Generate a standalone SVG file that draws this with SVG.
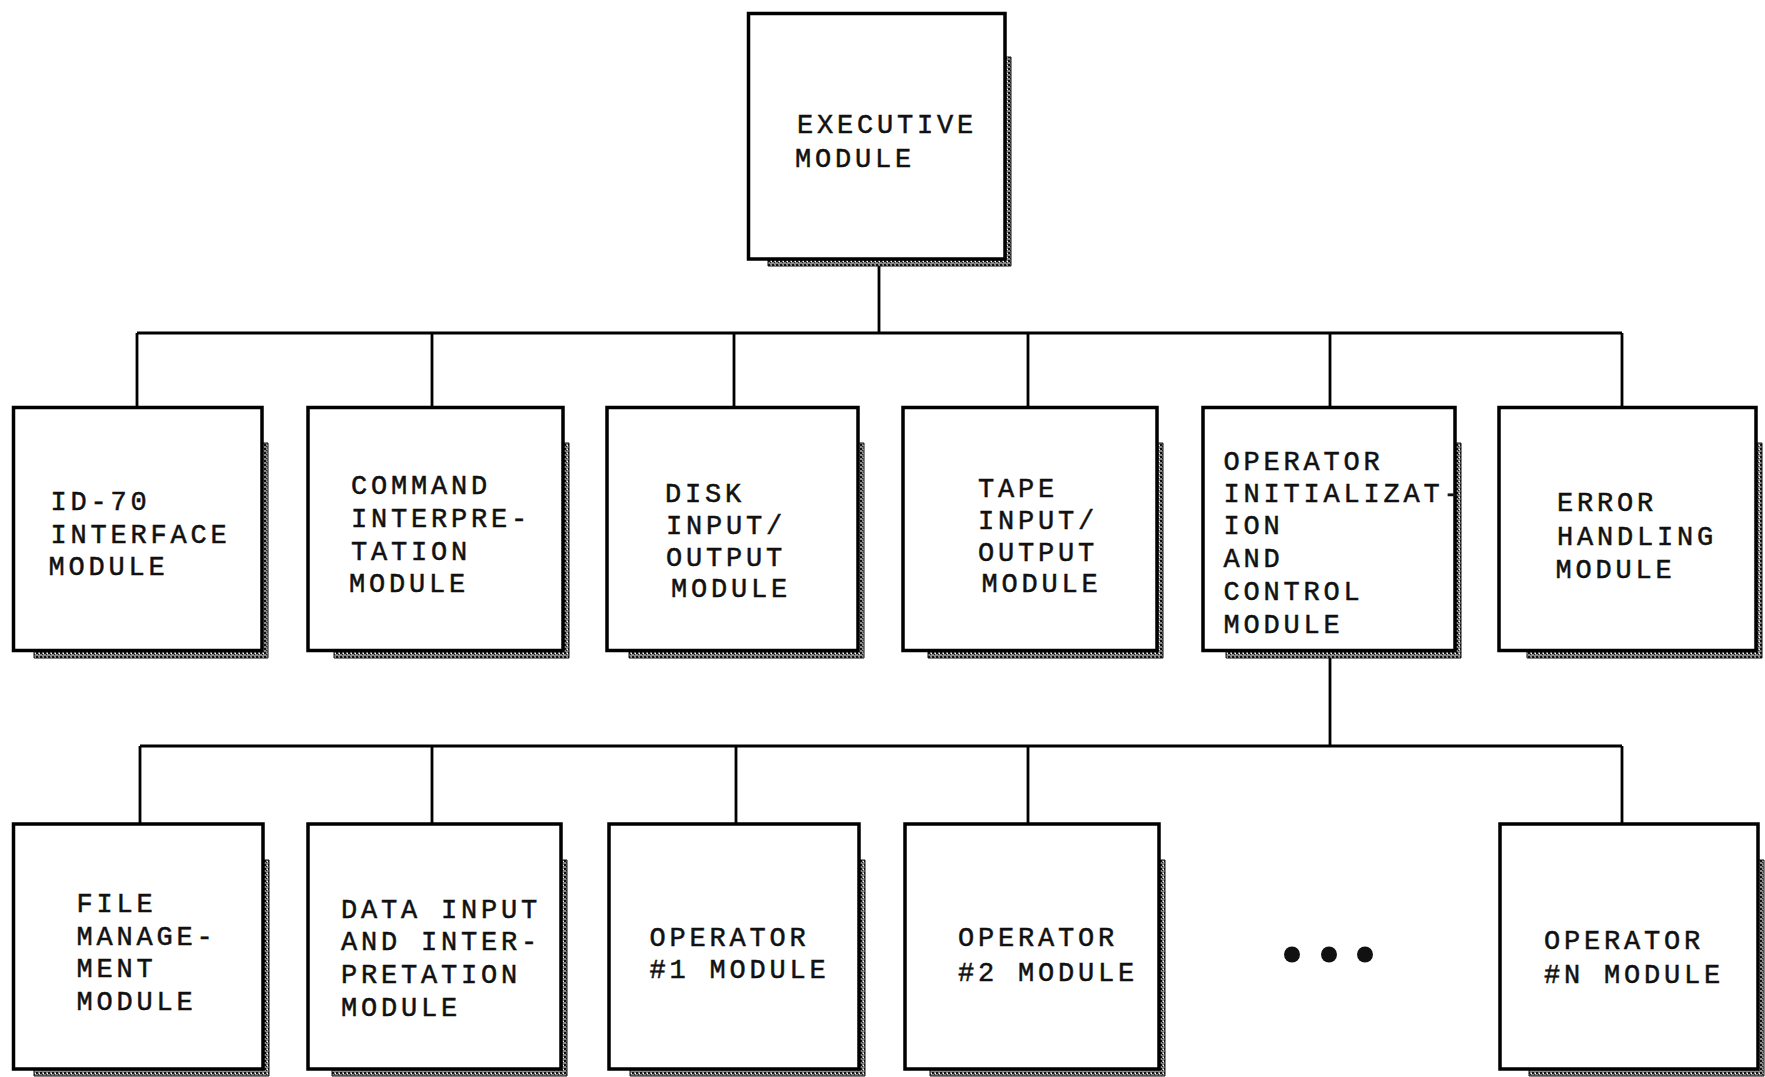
<svg xmlns="http://www.w3.org/2000/svg" width="1765" height="1077" viewBox="0 0 1765 1077">
  <defs>
    <pattern id="stip" width="4" height="4" patternUnits="userSpaceOnUse">
      <rect width="4" height="4" fill="#8a8a8a"/>
      <rect x="0" y="0" width="2" height="2" fill="#111"/>
      <rect x="2" y="2" width="1" height="1" fill="#222"/>
      <rect x="3" y="1" width="1" height="1" fill="#fff"/>
    </pattern>
    <style>
      .box{fill:#fff;stroke:#000;stroke-width:3.5}
      .sh{fill:url(#stip);stroke:#111;stroke-width:1}
      .lbl{font-family:"Liberation Mono","DejaVu Sans Mono",monospace;font-size:27px;letter-spacing:3.8px;fill:#111;stroke:#111;stroke-width:0.5}
      .conn{stroke:#000;stroke-width:2.8;fill:none}
      .dot{fill:#111}
    </style>
  </defs>
  <rect width="1765" height="1077" fill="#fff"/>

  <g id="connectors">
    <path class="conn" d="M879 259 V333 M137 333 H1622 M137 333 V407 M432 333 V407 M734 333 V407 M1028 333 V407 M1330 333 V407 M1622 333 V407"/>
    <path class="conn" d="M1330 651 V746 M140 746 H1622 M140 746 V824 M432 746 V824 M736 746 V824 M1028 746 V824 M1622 746 V824"/>
  </g>

  <g id="executive">
    <path class="sh" d="M1005 57 h6 v209 h-243 v-7 h237 z"/>
    <rect class="box" x="748.5" y="13.5" width="256.5" height="245.5"/>
    <text class="lbl" x="797" y="133">EXECUTIVE</text>
    <text class="lbl" x="795" y="167">MODULE</text>
  </g>

  <g id="id70">
    <path class="sh" d="M262 443 h6 v215 h-234 v-7 h228 z"/>
    <rect class="box" x="13.5" y="407.5" width="248.5" height="243"/>
    <text class="lbl" x="50.6" y="510">ID-70</text>
    <text class="lbl" x="50.6" y="543">INTERFACE</text>
    <text class="lbl" x="48.4" y="575">MODULE</text>
  </g>

  <g id="command">
    <path class="sh" d="M563 443 h6 v215 h-235 v-7 h229 z"/>
    <rect class="box" x="308" y="407.5" width="255" height="243"/>
    <text class="lbl" x="351" y="494">COMMAND</text>
    <text class="lbl" x="351" y="527">INTERPRE-</text>
    <text class="lbl" x="351" y="560">TATION</text>
    <text class="lbl" x="349" y="591.5">MODULE</text>
  </g>

  <g id="disk">
    <path class="sh" d="M858 443 h6 v215 h-235 v-7 h229 z"/>
    <rect class="box" x="607" y="407.5" width="251" height="243"/>
    <text class="lbl" x="665" y="502">DISK</text>
    <text class="lbl" x="666" y="534">INPUT/</text>
    <text class="lbl" x="666" y="566">OUTPUT</text>
    <text class="lbl" x="671" y="597">MODULE</text>
  </g>

  <g id="tape">
    <path class="sh" d="M1157 443 h6 v215 h-235 v-7 h229 z"/>
    <rect class="box" x="903" y="407.5" width="254" height="243"/>
    <text class="lbl" x="978" y="497">TAPE</text>
    <text class="lbl" x="978" y="529">INPUT/</text>
    <text class="lbl" x="978" y="561">OUTPUT</text>
    <text class="lbl" x="981.5" y="592">MODULE</text>
  </g>

  <g id="opinit">
    <path class="sh" d="M1455 443 h6 v215 h-235 v-7 h229 z"/>
    <rect class="box" x="1203" y="407.5" width="252" height="243"/>
    <text class="lbl" x="1223.5" y="470">OPERATOR</text>
    <text class="lbl" x="1223.5" y="502">INITIALIZAT-</text>
    <text class="lbl" x="1223.5" y="534">ION</text>
    <text class="lbl" x="1223.5" y="567">AND</text>
    <text class="lbl" x="1223.5" y="600">CONTROL</text>
    <text class="lbl" x="1223.5" y="633">MODULE</text>
  </g>

  <g id="error">
    <path class="sh" d="M1756 443 h6 v215 h-235 v-7 h229 z"/>
    <rect class="box" x="1499" y="407.5" width="257" height="243"/>
    <text class="lbl" x="1557" y="511">ERROR</text>
    <text class="lbl" x="1557" y="545">HANDLING</text>
    <text class="lbl" x="1555.6" y="578">MODULE</text>
  </g>

  <g id="filemgmt">
    <path class="sh" d="M263 860 h6 v216 h-235 v-7 h229 z"/>
    <rect class="box" x="13.5" y="824" width="249.5" height="245"/>
    <text class="lbl" x="76.5" y="912">FILE</text>
    <text class="lbl" x="76.5" y="945">MANAGE-</text>
    <text class="lbl" x="76.5" y="977">MENT</text>
    <text class="lbl" x="76.5" y="1010">MODULE</text>
  </g>

  <g id="datainput">
    <path class="sh" d="M561 860 h6 v216 h-235 v-7 h229 z"/>
    <rect class="box" x="308" y="824" width="253" height="245"/>
    <text class="lbl" x="341" y="918">DATA INPUT</text>
    <text class="lbl" x="341" y="950">AND INTER-</text>
    <text class="lbl" x="341" y="983">PRETATION</text>
    <text class="lbl" x="341" y="1016">MODULE</text>
  </g>

  <g id="op1">
    <path class="sh" d="M859 860 h6 v216 h-235 v-7 h229 z"/>
    <rect class="box" x="609" y="824" width="250" height="245"/>
    <text class="lbl" x="649.5" y="946">OPERATOR</text>
    <text class="lbl" x="649.5" y="978">#1 MODULE</text>
  </g>

  <g id="op2">
    <path class="sh" d="M1159 860 h6 v216 h-235 v-7 h229 z"/>
    <rect class="box" x="905" y="824" width="254" height="245"/>
    <text class="lbl" x="958" y="946">OPERATOR</text>
    <text class="lbl" x="958" y="981">#2 MODULE</text>
  </g>

  <g id="ellipsis">
    <circle class="dot" cx="1292" cy="954.5" r="8"/>
    <circle class="dot" cx="1329" cy="954.5" r="8"/>
    <circle class="dot" cx="1365" cy="954.5" r="8"/>
  </g>

  <g id="opN">
    <path class="sh" d="M1758 860 h6 v216 h-235 v-7 h229 z"/>
    <rect class="box" x="1500" y="824" width="258" height="245"/>
    <text class="lbl" x="1544" y="949">OPERATOR</text>
    <text class="lbl" x="1544" y="983">#N MODULE</text>
  </g>
</svg>
